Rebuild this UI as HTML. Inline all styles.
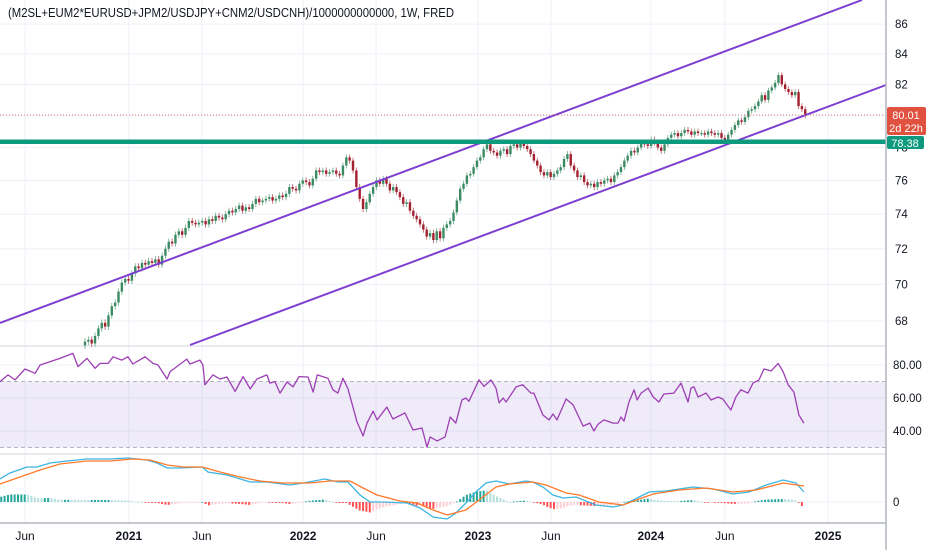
<!DOCTYPE html>
<html><head><meta charset="utf-8">
<style>
html,body{margin:0;padding:0;background:#fff;}
svg{display:block;font-family:"Liberation Sans",sans-serif;}
</style></head>
<body>
<svg id="chart" width="932" height="550" viewBox="0 0 932 550" xmlns="http://www.w3.org/2000/svg">
<rect x="0" y="0" width="932" height="550" fill="#ffffff"/>
<g id="grid"></g>
<g id="panes">
  <line x1="0" y1="346" x2="886" y2="346" stroke="#e0e3eb" stroke-width="1.5"/>
  <line x1="0" y1="454" x2="886" y2="454" stroke="#e0e3eb" stroke-width="1.5"/>
</g>
<g id="rsiBand"></g>
<g id="candles"></g>
<g id="drawings">
  <line x1="0" y1="323" x2="862" y2="0" stroke="#7e3fd0" stroke-width="2"/>
  <line x1="190" y1="345" x2="886" y2="85" stroke="#7e3fd0" stroke-width="2"/>
</g>
<line x1="0" y1="115" x2="886" y2="115" stroke="#e57373" stroke-width="1" stroke-dasharray="1,2"/>
<rect x="0" y="139.5" width="886" height="4.5" fill="#0e9a7e"/>
<g id="rsi"></g>
<g id="macd"></g>
<g id="axes">
  <line x1="886" y1="0" x2="886" y2="550" stroke="#b2b5be" stroke-width="1.5"/>
  <line x1="0" y1="523" x2="886" y2="523" stroke="#b2b5be" stroke-width="1.5"/>
</g>
<text x="8" y="17" font-size="12.5" fill="#131722" textLength="446" lengthAdjust="spacingAndGlyphs">(M2SL+EUM2*EURUSD+JPM2/USDJPY+CNM2/USDCNH)/1000000000000, 1W, FRED</text>
<g>
  <rect x="887" y="107" width="39" height="28" rx="2" fill="#e0523f"/>
  <text x="906" y="119" font-size="11" fill="#fff" text-anchor="middle">80.01</text>
  <text x="906" y="132" font-size="11" fill="#fff" text-anchor="middle">2d 22h</text>
</g>
<g>
  <rect x="887" y="136" width="37" height="13" rx="2" fill="#0e9a7e"/>
  <text x="905" y="147" font-size="11" fill="#fff" text-anchor="middle">78.38</text>
</g>
</svg>
<script>
// ---- data ----
const closes = [
66.9,67.0,66.8,67.2,67.6,67.9,67.7,68.3,68.8,69.0,
69.6,70.1,70.3,70.2,70.6,71.0,70.9,71.2,71.1,71.3,
71.2,71.4,71.1,71.6,72.0,72.4,72.3,72.8,73.0,72.8,
73.2,73.6,73.5,73.4,73.5,73.6,73.4,73.7,73.6,73.9,
73.8,73.7,74.0,74.2,74.1,74.3,74.5,74.2,74.4,74.3,
74.6,74.9,74.7,74.8,74.9,75.0,74.8,74.9,75.1,75.0,
75.2,75.6,75.5,75.4,75.8,76.0,75.9,75.7,76.1,76.6,
76.5,76.6,76.4,76.5,76.6,76.4,76.3,76.9,77.4,77.2,
76.6,75.6,74.9,74.3,74.7,75.2,75.6,76.0,75.8,76.1,
75.8,75.4,75.6,75.3,75.0,74.6,74.7,74.2,73.9,73.7,
73.4,73.1,72.7,72.9,72.5,73.0,72.6,73.2,73.4,73.6,
74.1,74.8,75.5,75.8,76.3,76.4,76.8,77.2,77.4,77.9,
78.2,77.8,77.7,77.5,77.8,77.9,77.6,78.1,78.2,78.0,
78.3,78.1,77.9,77.6,77.2,76.9,76.5,76.3,76.5,76.2,
76.4,76.6,76.8,77.3,77.6,76.9,76.6,76.2,76.3,75.9,
75.7,75.8,75.6,75.9,75.8,76.0,76.1,75.9,76.3,76.5,
76.8,77.2,77.5,77.8,77.7,78.0,78.3,78.2,78.1,78.5,
78.3,78.0,77.8,78.2,78.6,78.8,78.9,78.7,78.9,79.1,
79.0,78.8,79.0,78.9,78.9,78.8,79.0,78.9,78.8,78.9,
78.6,78.5,78.8,79.1,79.4,79.7,79.6,79.9,80.3,80.4,
80.6,80.9,81.3,81.0,81.6,81.8,82.1,82.6,82.0,81.7,
81.5,81.3,81.5,80.6,80.4,80.0];
const firstOpen = 66.7;
const rsiWeek = [-25.4,-23,-20.9,-17.9,-14.9,-13.4,-7.5,-3.6,-2.1,0.6,3,4.5,6.9,8.4,11,12.8,14.3,17.9,20.3,21.8,24.5,25.4,30.4,31.3,34.3,35.2,35.8,38.2,40.3,42.4,44.8,47.2,49.3,51.3,54.3,55.2,56.7,58.2,60.3,62.1,63.9,66.6,68.1,69.3,72.5,74,75.5,77,78.5,81.2,83,84.2,86,87.2,90.1,91.9,95.5,97.9,100.6,102.1,103,105.1,107.5,109,110.7,112.5,113.7,114.6,117.6,119.1,121.2,122.7,123.6,124.8,125.7,128.7,130.7,133.1,134,136.7,138.5,139.7,140.9,143.6,145.7,148.7,150.7,151.9,153.1,154.9,157.6,159.1,160,160.9,162.4,163.9,164.8,166,168.1,169.6,171.3,172.8,175.8,177.9,180,180.9,181.8,183,185.4,186.9,189,190.4,192.8,194.3,195.8,197.9,199.4,201.2,202.7,204.8,206.9,208.4,209.9,211.6,213.1,214.6];
const rsiVal = [69.9,74,71,77.6,75,80,84,87,79,84,78,81,81,85,83,85,80.6,85,81,80,71.5,76,83.6,80.6,83,80,68,74,71.5,72.7,64,73,65.5,71.5,74,69,70,63,69.7,66.7,73,72.7,63.6,74,72,65,63,72,65.5,45.5,37,45,52,46.7,54.5,47.3,51,40.6,41.8,30.3,36.4,34,36.4,48.5,44.8,58.8,60,58,71,67,71,66,57,60,57.6,66.7,68,63,63,49.7,46.7,50.3,46.7,59.4,55.8,43,44.8,40,44,46.7,44.8,44.8,48.5,46,57.6,65,58.8,63,66,60.6,57.6,62.4,63,69,57.6,66,66.7,60.6,63,58.8,60.6,59.4,52.7,60.6,65,63,69,71,77.6,76.4,81,76,68,63.6,49.7,44.8];
const macdWeek = [-25.4,-22.4,-17.3,-14.3,-10.4,-5.4,0.6,7.5,12.8,18.5,21.5,24.5,28.4,35,36.7,42.4,49.3,54.3,61.2,65.1,71.6,75.5,78.5,82.1,85.1,88.9,96.1,100,103.9,108.1,110.7,113.7,116.7,119.7,122.7,126.6,131.6,133.7,136.7,139.7,142.7,146.6,152.5,157.6,160.6,165.4,168.4,173.4,181.5,187.5,193.4,198.2,203.3,208.4,212.2,214.6];
const macdVal = [2.3,2.9,3.5,3.5,3.9,4.1,4.3,4.3,4.4,4.2,3.9,3.4,3.4,3.5,3.0,2.7,2.0,2.0,1.7,1.9,2.3,2.0,2.0,0.7,0,0,-0.1,-0.6,-1.5,-1.7,-1.1,-0.1,1.0,1.9,2.1,1.8,2.1,2.0,1.5,0.7,0.4,0.5,-0.3,-0.5,-0.3,0.5,1.0,1.1,1.5,1.3,0.8,1.0,1.7,2.2,1.9,1.0];
const signalWeek = [-25.4,-19.4,-13.4,-7.5,0.6,7.5,14.3,19.4,24.5,29.3,35,40.3,46.3,52.2,59.1,67.2,73.1,79.1,83,87.2,94,99.1,103.9,108.1,113.7,117.6,122.7,126.6,133.7,137.6,143.6,147.5,153.4,160.6,165.4,169.6,177.3,185.4,193.4,200.3,208.4,214.6];
const signalVal = [1.8,2.5,3.2,3.8,4.1,4.1,4.3,4.2,3.7,3.5,3.5,3.0,2.5,2.1,1.9,1.9,2.1,2.1,1.4,0.7,0.1,-0.1,-0.8,-1.3,-0.8,0.2,1.5,1.8,2.0,1.7,0.9,0.7,0,-0.3,0.3,0.8,1.2,1.4,1.0,1.2,1.9,1.6];
const priceTicks = [86,84,82,80,78,76,74,72,70,68];
const rsiTicks = [80,60,40];
const timeLabels = ["Jun","2021","Jun","2022","Jun","2023","Jun","2024","Jun","2025"];
const timeWeeks = [-17.9,13.1,34.9,65.1,86.9,117.3,139.1,168.9,191,221.8];

// ---- scales ----
const NS = "http://www.w3.org/2000/svg";
const xW = w => 85 + w * 3.35;
const yP = p => 321 - 1264 * (Math.log(p) - Math.log(68));
const yR = v => 365 + (80 - v) * 1.65;
const yM = v => 502 - v * 10;
function mk(tag, attrs, parent) {
  const e = document.createElementNS(NS, tag);
  for (const k in attrs) e.setAttribute(k, attrs[k]);
  parent.appendChild(e);
  return e;
}
function interp(ws, vs, w) {
  if (w <= ws[0]) return vs[0];
  for (let i = 1; i < ws.length; i++) if (w <= ws[i]) { const t = (w - ws[i-1]) / (ws[i] - ws[i-1]); return vs[i-1] + t * (vs[i] - vs[i-1]); }
  return vs[vs.length - 1];
}
const grid = document.getElementById('grid');
const axes = document.getElementById('axes');

timeWeeks.forEach((w, i) => {
  const x = xW(w);
  const gl = mk('line', {x1: x, y1: 0, x2: x, y2: 523, stroke: '#f0f3fa', 'stroke-width': 1.2}, grid);
  
  
  const isYear = /^\d/.test(timeLabels[i]);
  const t = mk('text', {x: x, y: 540, 'font-size': 12, 'text-anchor': 'middle', fill: '#131722', 'font-weight': isYear ? 'bold' : 'normal'}, axes);
  t.textContent = timeLabels[i];
  
  
});
priceTicks.forEach(p => {
  const y = yP(p);
  const gl = mk('line', {x1: 0, y1: y, x2: 886, y2: y, stroke: '#f0f3fa', 'stroke-width': 1.2}, grid);
  
  
  const t = mk('text', {x: 895, y: y + 4, 'font-size': 11.5, fill: '#131722'}, axes);
  t.textContent = p;
  
  
});
rsiTicks.forEach(v => {
  const y = yR(v);
  const gl = mk('line', {x1: 0, y1: y, x2: 886, y2: y, stroke: '#f0f3fa', 'stroke-width': 1.2}, grid);
  
  
  const t = mk('text', {x: 893, y: y + 4, 'font-size': 11.5, fill: '#131722'}, axes);
  t.textContent = v.toFixed(2);
  
  
});
{
  const gl = mk('line', {x1: 0, y1: yM(0), x2: 886, y2: yM(0), stroke: '#f0f3fa', 'stroke-width': 1.2}, grid);
  
  
  const t = mk('text', {x: 893, y: yM(0) + 4, 'font-size': 11.5, fill: '#131722'}, axes);
  t.textContent = '0';
  
  
}

const band = document.getElementById('rsiBand');
{
  const r = mk('rect', {x: 0, y: yR(70), width: 886, height: yR(30) - yR(70), fill: '#7e57c2', 'fill-opacity': 0.12}, band);
  
  
  [70, 30].forEach(v => {
    const l = mk('line', {x1: 0, y1: yR(v), x2: 886, y2: yR(v), stroke: '#b2b5be', 'stroke-dasharray': '4,3'}, band);
    
    
  });
}

const cg = document.getElementById('candles');
closes.forEach((c, i) => {
  const o = i === 0 ? firstOpen : closes[i - 1];
  const hi = Math.max(o, c) + 0.18, lo = Math.min(o, c) - 0.18;
  const up = c >= o;
  const col = up ? '#3b8a62' : '#a3202e';
  const x = xW(i);
  const wk = mk('line', {x1: x, y1: yP(hi), x2: x, y2: yP(lo), stroke: up ? '#6aa88a' : '#b85560', 'stroke-width': 0.8}, cg);
  
  
  const yt = yP(Math.max(o, c)), yb = yP(Math.min(o, c));
  const b = mk('rect', {x: x - 1.2, y: yt, width: 2.4, height: Math.max(1.2, yb - yt), fill: col}, cg);
  
  
});

const rg = document.getElementById('rsi');
{
  const d = rsiWeek.map((w, i) => (i ? 'L' : 'M') + xW(w).toFixed(1) + ',' + yR(rsiVal[i]).toFixed(1)).join(' ');
  const p = mk('path', {d: d, fill: 'none', stroke: '#9c3fb3', 'stroke-width': 1.3, 'stroke-linejoin': 'round'}, rg);
  
  
}

const mg = document.getElementById('macd');
let prevH = null;
for (let w = -25; w <= 214; w++) {
  const h = (interp(macdWeek, macdVal, w) - interp(signalWeek, signalVal, w)) * 1.0;
  let col;
  if (h >= 0) col = (prevH === null || h >= prevH) ? '#26a69a' : '#b2dfdb';
  else col = (prevH === null || h <= prevH) ? '#ff5252' : '#ffcdd2';
  prevH = h;
  const y0 = yM(0), y1 = yM(h);
  const r = mk('rect', {x: xW(w) - 1, y: Math.min(y0, y1), width: 2, height: Math.max(0.8, Math.abs(y1 - y0)), fill: col}, mg);
  
  
}
{
  const d1 = macdWeek.map((w, i) => (i ? 'L' : 'M') + xW(w).toFixed(1) + ',' + yM(macdVal[i]).toFixed(1)).join(' ');
  const p1 = mk('path', {d: d1, fill: 'none', stroke: '#3db4e0', 'stroke-width': 1.3}, mg);
  
  
  const d2 = signalWeek.map((w, i) => (i ? 'L' : 'M') + xW(w).toFixed(1) + ',' + yM(signalVal[i]).toFixed(1)).join(' ');
  const p2 = mk('path', {d: d2, fill: 'none', stroke: '#ff7a2a', 'stroke-width': 1.3}, mg);
  
  
}
</script>
</body></html>
